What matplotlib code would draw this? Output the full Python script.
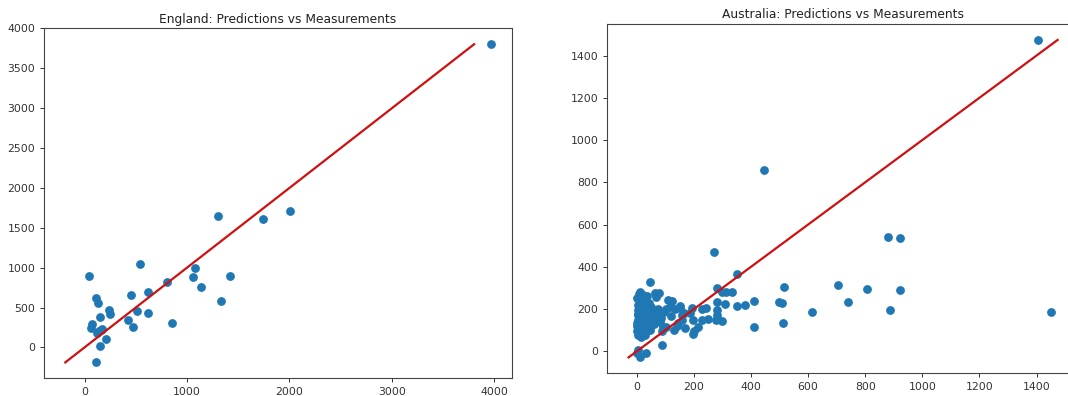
import matplotlib
matplotlib.use('Agg')
import matplotlib.pyplot as plt
import numpy as np

# England: measured values (x) and model predictions (y)
eng_measured = [39, 110, 135, 155, 243, 253, 75, 65, 162, 123, 207, 155, 110, 140, 170,
                421, 473, 450, 509, 538, 619, 619, 803, 849, 1056, 1076, 1137, 1305,
                1328, 1416, 1743, 2008, 3964]
eng_predicted = [894, 620, 560, 385, 469, 415, 294, 248, 219, 185, 110, 15, -188, 200, 230,
                 344, 260, 656, 460, 1048, 698, 431, 819, 310, 877, 990, 756, 1644,
                 585, 894, 1606, 1710, 3802]

# Australia: measured values (x) and model predictions (y)
aus_measured = [1406, 447, 881, 923, 271, 352, 48, 516, 703, 806, 923, 738, 886, 1449,
                615, 513, 411, 411, 498, 508, 379, 350, 309, 280, 280, 297, 314, 332,
                280, 280, 297, 277, 244, 227, 250, 227, 215, 200, 198, 192, 198, 186,
                153, 157, 145, 125, 110, 104, 92, 87, 89, 75, 63, 102, 116, 63, 69, 77,
                11, 22, 28, 16, 5, 5, 5, 5, 5, 28, 22, 5, 11, 32, 0,
                0, 3, 8, 12, 15, 18, 20, 25, 30, 35, 38, 40, 45, 50, 55, 60, 30, 35,
                42, 50, 0, 2, 10, 15, 8, 12, 25, 45, 58, 68, 80, 85, 95, 130, 140,
                160, 170, 120, 135, 6, 14, 20, 33, 2, 9, 18, 27, 4, 48, 56, 72, 150, 165]
aus_predicted = [1474, 856, 541, 536, 472, 368, 327, 306, 314, 297, 291, 234, 196, 187,
                 184, 136, 113, 237, 232, 228, 218, 215, 223, 232, 302, 281, 281, 281,
                 196, 173, 144, 149, 206, 202, 152, 149, 116, 94, 80, 207, 149, 180,
                 215, 173, 133, 236, 243, 113, 117, 94, 28, 201, 180, 201, 212, 278, 259, 278,
                 283, 267, 247, 228, 196, 173, 149, 117, 78, 78, 109, 7, -29, -9, -9,
                 250, 220, 160, 130, 190, 150, 100, 170, 200, 140, 180, 120, 160, 190, 145,
                 130, 240, 260, 230, 210, 120, 95, 85, 70, 270, 100, 125, 100, 170, 150,
                 140, 160, 185, 100, 120, 150, 110, 165, 200, 210, 185, 140, 175, 135,
                 90, 155, 205, 175, 115, 160, 190, 205, 180]

fig = plt.figure(figsize=(10.68, 3.96), dpi=100)
ax1 = fig.add_axes([0.0412, 0.0447, 0.4382, 0.8838])
ax2 = fig.add_axes([0.5684, 0.0573, 0.4420, 0.8820])

panels = [(ax1, 'England', eng_measured, eng_predicted),
          (ax2, 'Australia', aus_measured, aus_predicted)]

for ax, name, meas, pred in panels:
    meas = np.array(meas)
    pred = np.array(pred)
    ax.scatter(meas, pred, s=28, color='#1f77b4')
    lo, hi = pred.min(), pred.max()
    ax.plot([lo, hi], [lo, hi], color='#d01010', linewidth=1.6)
    ax.set_title(name + ': Predictions vs Measurements', fontsize=8.8, pad=4, color='#222222')
    ax.tick_params(labelsize=7.8, length=2.8, width=0.7, colors='#333333')
    for sp in ax.spines.values():
        sp.set_linewidth(0.8)
        sp.set_color('#444444')

fig.savefig('out.png', dpi=100)
